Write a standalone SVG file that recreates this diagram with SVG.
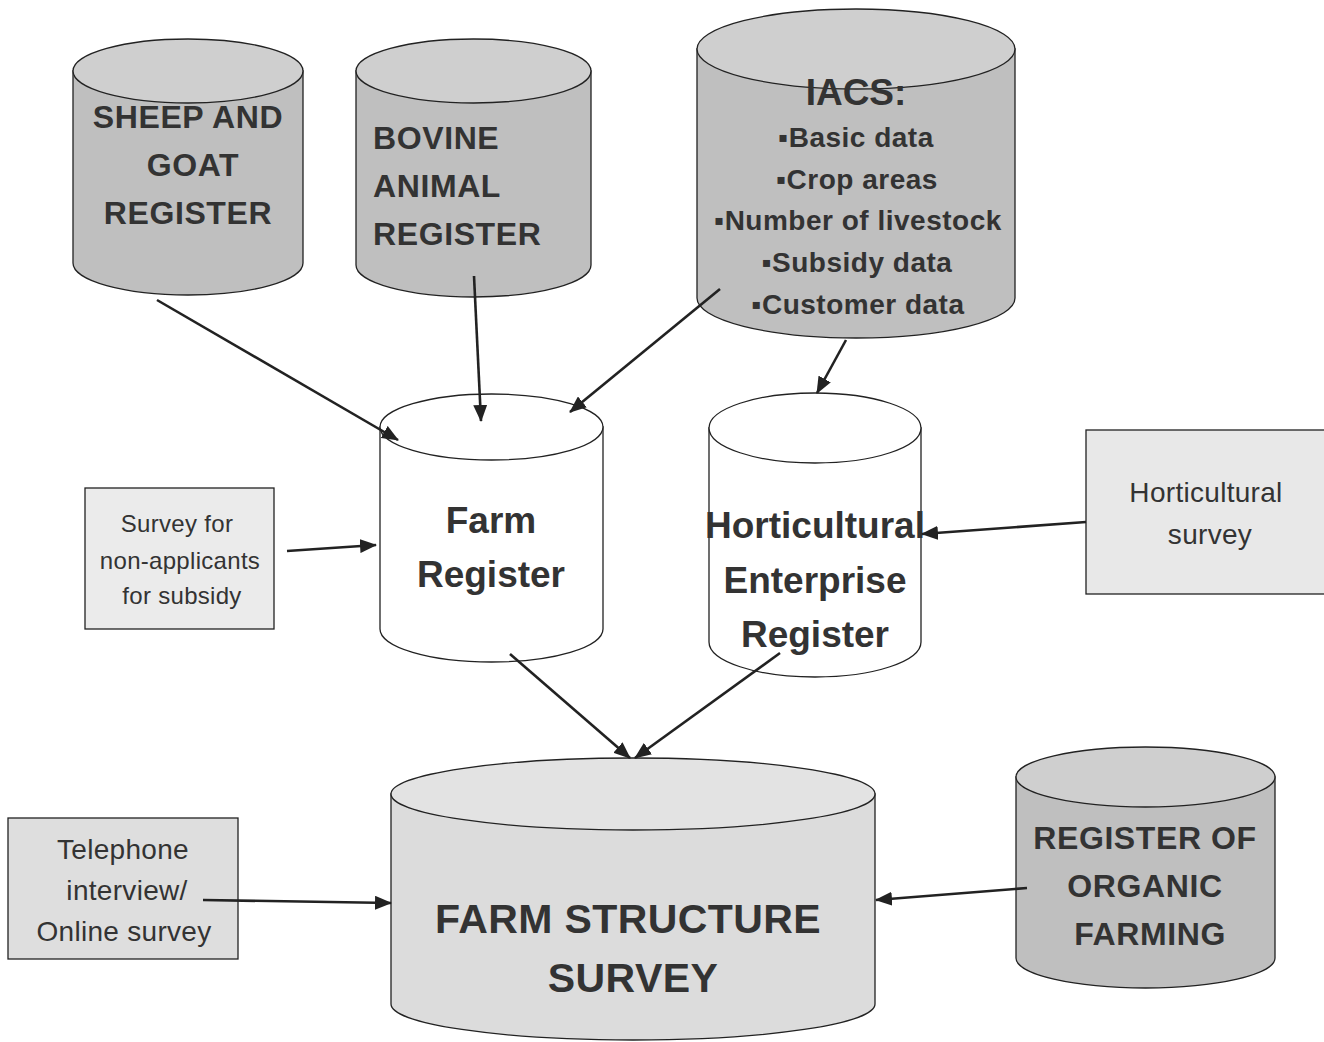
<svg xmlns="http://www.w3.org/2000/svg" width="1324" height="1042" viewBox="0 0 1324 1042">
<style>
.body{stroke:#222;stroke-width:1.3}
.top{stroke:#222;stroke-width:1.3}
.dk .body{fill:#bfbfbf}.dk .top{fill:#cfcfcf}
.wh .body,.wh .top{fill:#fff}
.lt .body{fill:#dcdcdc}.lt .top{fill:#e3e3e3}
.b{font-family:"Liberation Sans",Arial,sans-serif;font-weight:bold;fill:#333;text-anchor:middle}
.r{font-family:"Liberation Sans",Arial,sans-serif;fill:#333;text-anchor:middle}
.box{stroke:#222;stroke-width:1.3}
.conn line{stroke:#222;stroke-width:2.6;marker-end:url(#ah)}
</style>
<defs>
<marker id="ah" markerUnits="userSpaceOnUse" markerWidth="17" markerHeight="14" refX="16" refY="7" orient="auto">
<path d="M0,0 L17,7 L0,14 Z" fill="#222"/>
</marker>
</defs>
<rect width="1324" height="1042" fill="#fff"/>

<g id="sheep" class="dk">
<path class="body" d="M73,71 L73,263 A115,32 0 0 0 303,263 L303,71 Z"/>
<ellipse class="top" cx="188" cy="71" rx="115" ry="32"/>
<text class="b" font-size="32" letter-spacing="0.6"><tspan x="188" y="128">SHEEP AND</tspan><tspan x="193" y="176">GOAT</tspan><tspan x="188" y="224">REGISTER</tspan></text>
</g>

<g id="bovine" class="dk">
<path class="body" d="M356,71 L356,265 A117.5,32 0 0 0 591,265 L591,71 Z"/>
<ellipse class="top" cx="473.5" cy="71" rx="117.5" ry="32"/>
<text class="b" font-size="32" letter-spacing="0.6" style="text-anchor:start"><tspan x="373" y="149">BOVINE</tspan><tspan x="373" y="197">ANIMAL</tspan><tspan x="373" y="245">REGISTER</tspan></text>
</g>

<g id="iacs" class="dk">
<path class="body" d="M697,49 L697,298 A159,40 0 0 0 1015,298 L1015,49 Z"/>
<ellipse class="top" cx="856" cy="49" rx="159" ry="40"/>
<text class="b" font-size="37" x="856" y="105">IACS:</text>
<text class="b" font-size="28" letter-spacing="0.5"><tspan x="856" y="147">▪Basic data</tspan><tspan x="857" y="189">▪Crop areas</tspan><tspan x="858" y="230">▪Number of livestock</tspan><tspan x="857" y="272">▪Subsidy data</tspan><tspan x="858" y="314">▪Customer data</tspan></text>
</g>

<g id="farm-register" class="wh">
<path class="body" d="M380,427 L380,629 A111.5,33 0 0 0 603,629 L603,427 Z"/>
<ellipse class="top" cx="491.5" cy="427" rx="111.5" ry="33"/>
<text class="b" font-size="37"><tspan x="491" y="533">Farm</tspan><tspan x="491" y="587">Register</tspan></text>
</g>

<g id="hort-register" class="wh">
<path class="body" d="M709,428 L709,642 A106,35 0 0 0 921,642 L921,428 Z"/>
<ellipse class="top" cx="815" cy="428" rx="106" ry="35"/>
<text class="b" font-size="37"><tspan x="815" y="538">Horticultural</tspan><tspan x="815" y="593">Enterprise</tspan><tspan x="815" y="647">Register</tspan></text>
</g>

<g id="fss" class="lt">
<path class="body" d="M391,794 L391,1004 A242,36 0 0 0 875,1004 L875,794 Z"/>
<ellipse class="top" cx="633" cy="794" rx="242" ry="36"/>
<text class="b" font-size="41" letter-spacing="0.4"><tspan x="628" y="933">FARM STRUCTURE</tspan><tspan x="633" y="992">SURVEY</tspan></text>
</g>

<g id="organic" class="dk">
<path class="body" d="M1016,777 L1016,958 A129.5,30 0 0 0 1275,958 L1275,777 Z"/>
<ellipse class="top" cx="1145.5" cy="777" rx="129.5" ry="30"/>
<text class="b" font-size="32" letter-spacing="0.6"><tspan x="1145" y="849">REGISTER OF</tspan><tspan x="1145" y="897">ORGANIC</tspan><tspan x="1150" y="945">FARMING</tspan></text>
</g>

<g id="survey-nonapplicants">
<rect class="box" x="85" y="488" width="189" height="141" fill="#ebebeb"/>
<text class="r" font-size="24" letter-spacing="0.3"><tspan x="177" y="532">Survey for</tspan><tspan x="180" y="569">non-applicants</tspan><tspan x="182" y="604">for subsidy</tspan></text>
</g>

<g id="hort-survey">
<rect class="box" x="1086" y="430" width="250" height="164" fill="#e8e8e8"/>
<text class="r" font-size="28" letter-spacing="0.3"><tspan x="1206" y="502">Horticultural</tspan><tspan x="1210" y="544">survey</tspan></text>
</g>

<g id="telephone">
<rect class="box" x="8" y="818" width="230" height="141" fill="#dedede"/>
<text class="r" font-size="28" letter-spacing="0.3"><tspan x="123" y="859">Telephone</tspan><tspan x="127" y="900">interview/</tspan><tspan x="124" y="941">Online survey</tspan></text>
</g>

<g id="connectors" class="conn">
<line x1="157" y1="300" x2="398" y2="440"/>
<line x1="474" y1="276" x2="481" y2="421"/>
<line x1="720" y1="289" x2="570" y2="412"/>
<line x1="846" y1="340" x2="817" y2="393"/>
<line x1="287" y1="551" x2="376" y2="545"/>
<line x1="1086" y1="522" x2="922" y2="534"/>
<line x1="510" y1="654" x2="630" y2="758"/>
<line x1="780" y1="653" x2="635" y2="758"/>
<line x1="203" y1="900" x2="391" y2="903"/>
<line x1="1027" y1="888" x2="876" y2="900"/>
</g>
</svg>
